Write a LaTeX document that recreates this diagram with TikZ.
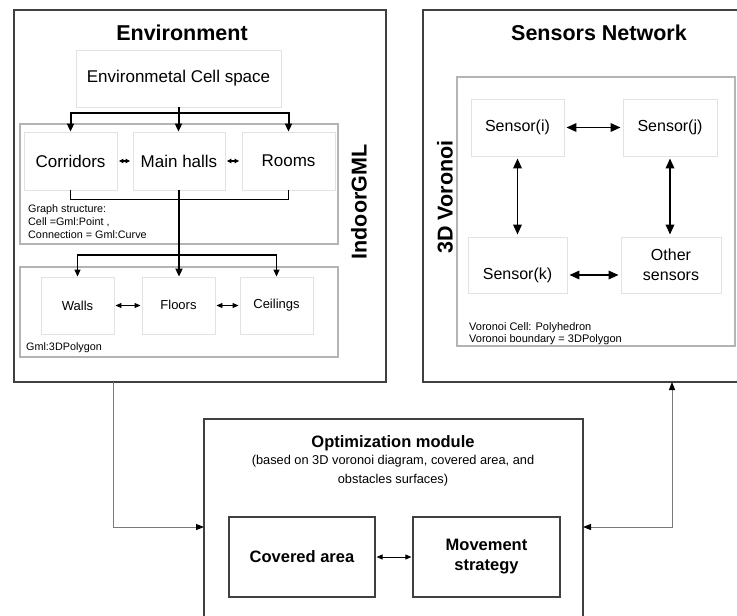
\documentclass[tikz,border=0pt]{standalone}
\usepackage{fontspec}
\setmainfont{Liberation Sans}
\usetikzlibrary{arrows.meta}
\definecolor{outerc}{HTML}{404040}
\definecolor{grpc}{HTML}{B4B4B4}
\definecolor{innerc}{HTML}{E2E2E2}
\definecolor{connc}{HTML}{7A7A7A}
\newcommand{\fsz}[2]{\fontsize{#1}{#2}\selectfont}
\begin{document}
\begin{tikzpicture}[x=1pt,y=-1pt,
  outerbox/.style={draw=outerc, line width=1.3pt, inner sep=0pt},
  grpbox/.style={draw=grpc, line width=1.3pt, inner sep=0pt},
  ibox/.style={draw=innerc, line width=0.9pt, inner sep=0pt, align=center},
  dbox/.style={draw=outerc, line width=1.2pt, inner sep=0pt, align=center, font=\fsz{16.5}{20}\bfseries},
  titletxt/.style={font=\fsz{21.5}{24}\bfseries, inner sep=0pt},
  rottxt/.style={font=\fsz{21.5}{24}\bfseries, rotate=90, inner sep=0pt},
  smalltxt/.style={font=\fsz{10.8}{13}, align=left, anchor=west, inner sep=0pt},
  fat/.style={line width=2pt, -{Triangle[length=8pt,width=7pt]}},
  fatline/.style={line width=1.6pt},
  medarr/.style={line width=1.3pt, -{Triangle[length=7pt,width=6pt]}},
  tinyarr/.style={line width=1.6pt, {Triangle[length=4.5pt,width=4.5pt]}-{Triangle[length=4.5pt,width=4.5pt]}, shorten <=1.5pt, shorten >=2.5pt},
  thinarr/.style={line width=0.9pt, {Triangle[length=6pt,width=5pt]}-{Triangle[length=6pt,width=5pt]}, shorten <=1pt, shorten >=1pt},
  sarr/.style={line width=1.8pt, {Triangle[length=10pt,width=8.5pt]}-{Triangle[length=10pt,width=8.5pt]}, shorten <=2pt, shorten >=2pt},
  connline/.style={draw=connc, line width=1pt},
  ctip/.style={Triangle[length=8pt,width=6pt,color=black]}
]
\useasboundingbox (0,0) rectangle (737,616);
\clip (0,0) rectangle (737,616);
\fill[white] (0,0) rectangle (737,616);

% ---------------- Environment ----------------
\node[outerbox, minimum width=372pt, minimum height=372pt] (env) at (200,196) {};
\node[titletxt] (envt) at (182,33) {Environment};
\node[ibox, minimum width=205pt, minimum height=57pt, font=\fsz{17}{20}] (cell) at (178.5,78.5) {Environmetal Cell space};

\node[grpbox, minimum width=318pt, minimum height=120pt] (igml) at (179,184) {};
\node[ibox, minimum width=93pt, minimum height=58pt, font=\fsz{17}{20}] (corr) at (70.5,161) {Corridors};
\node[ibox, minimum width=92pt, minimum height=58pt, font=\fsz{17}{20}] (mh) at (179,161) {Main halls};
\node[ibox, minimum width=93pt, minimum height=58pt, font=\fsz{17}{20}] (rooms) at (288.5,161) {Rooms};
\node[smalltxt] (gs) at (28,222) {Graph structure:\\Cell =Gml:Point ,\\Connection = Gml:Curve};
\node[rottxt] (igl) at (359,202) {IndoorGML};

\node[grpbox, minimum width=318pt, minimum height=90pt] (gml) at (179,312) {};
\node[ibox, minimum width=73pt, minimum height=57pt, font=\fsz{13}{16}] (walls) at (77.5,305.5) {Walls};
\node[ibox, minimum width=73pt, minimum height=57pt, font=\fsz{13}{16}] (floors) at (178.5,305.5) {\raisebox{2pt}{Floors}};
\node[ibox, minimum width=73pt, minimum height=57pt, font=\fsz{13}{16}] (ceil) at (276.5,305.5) {\raisebox{2pt}{Ceilings}};
\node[smalltxt] (gmlt) at (26,348) {Gml:3DPolygon};

% arrows in Environment
\draw[fat] (cell.south) -- ++(0,6) -| (corr.north);
\draw[fat] (cell.south) -- (cell.south |- mh.north);
\draw[fat] (cell.south) -- ++(0,6) -| (rooms.north);
\draw[tinyarr] (corr.east) -- (mh.west);
\draw[tinyarr] (mh.east) -- (rooms.west);
\draw[fatline] (corr.south) -- ++(0,9) -| (rooms.south);
\draw[fat] (mh.south) -- (mh.south |- floors.north);
\coordinate (split) at (179,255);
\draw[medarr] (split) -| (walls.north);
\draw[medarr] (split) -| (ceil.north);
\draw[thinarr] (walls.east) -- (floors.west);
\draw[thinarr] (floors.east) -- (ceil.west);

% ---------------- Sensors Network ----------------
\node[outerbox, minimum width=330pt, minimum height=372pt] (sens) at (588,196) {};
\node[titletxt] (senst) at (599,33) {Sensors Network};
\node[grpbox, minimum width=278pt, minimum height=269pt] (vor) at (596,211.5) {};
\node[ibox, minimum width=93pt, minimum height=57pt, font=\fsz{16}{19}] (si) at (517.5,127.5) {Sensor(i)};
\node[ibox, minimum width=94pt, minimum height=57pt, font=\fsz{16}{19}] (sj) at (670,127.5) {Sensor(j)};
\node[ibox, minimum width=99pt, minimum height=56pt] (sk) at (517.5,265) {};
\node[inner sep=0pt, font=\fsz{16}{19}] (skt) at (517.5,275) {Sensor(k)};
\node[ibox, minimum width=100pt, minimum height=56pt, font=\fsz{16}{20}] (oth) at (671,265) {Other\\sensors};
\node[rottxt] (vt) at (445,197) {3D Voronoi};
\node[smalltxt, font=\fsz{11}{12}] (vtxt) at (469,334) {Voronoi Cell: Polyhedron\\Voronoi boundary = 3DPolygon};

\draw[sarr] (si.east) -- (sj.west);
\draw[sarr] (si.south) -- (si.south |- sk.north);
\draw[sarr] (sj.south) -- (sj.south |- oth.north);
\draw[sarr] (skt.east -| sk.east) -- (skt.east -| oth.west);

% ---------------- Optimization module ----------------
\node[outerbox, minimum width=379pt, minimum height=240pt] (opt) at (393.5,539) {};
\node[inner sep=0pt, font=\fsz{16.5}{20}\bfseries] (optt) at (393,443) {Optimization module};
\node[inner sep=0pt, align=center, font=\fsz{12.8}{19}] (opts) at (393,471) {(based on 3D voronoi diagram, covered area, and\\obstacles surfaces)};
\node[dbox, minimum width=146pt, minimum height=80pt] (cov) at (302,557) {Covered area};
\node[dbox, minimum width=147pt, minimum height=80pt] (mov) at (486.5,557) {Movement\\strategy};
\draw[thinarr] (cov.east) -- (mov.west);

% ---------------- connectors ----------------
\coordinate (envout) at (113,382);
\coordinate (optin) at (204,527);
\coordinate (optout) at (583,527);
\coordinate (sensin) at (672,382);
\draw[connline, -{Triangle[length=8pt,width=6pt,color=black]}] (envout) |- (optin);
\draw[connline, {Triangle[length=8pt,width=6pt,color=black]}-{Triangle[length=8pt,width=6pt,color=black]}] (optout) -| (sensin);
\end{tikzpicture}
\end{document}
